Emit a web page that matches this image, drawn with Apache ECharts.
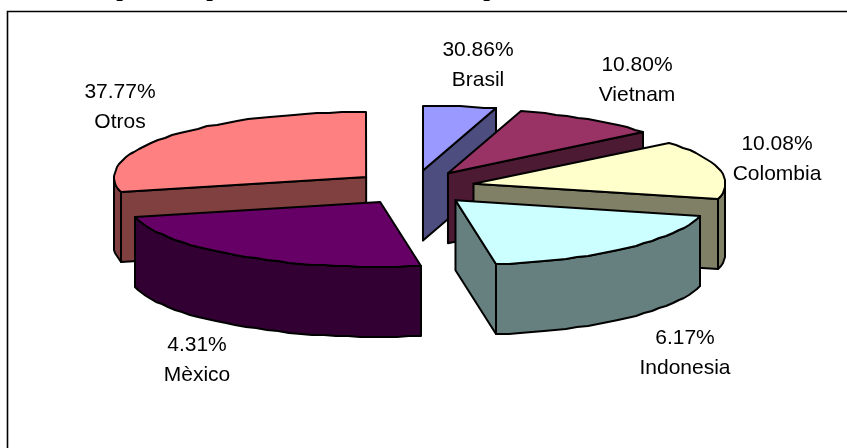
<!DOCTYPE html>
<html>
<head>
<meta charset="utf-8">
<style>html,body{margin:0;padding:0;background:#fff}#c{width:847px;height:448px}</style>
<script src="https://cdn.jsdelivr.net/npm/echarts@6/dist/echarts.min.js"></script>
</head>
<body>
<div id="c"></div>
<script>
// Data, clockwise from 12 o'clock
var names = ['Brasil', 'Vietnam', 'Colombia', 'Indonesia', 'Mèxico', 'Otros'];
var printedLabels = ['30.86%', '10.80%', '10.08%', '6.17%', '4.31%', '37.77%'];
// Share of the circle each drawn slice covers (the drawn sizes differ from the printed labels)
var sliceShares = [4.7, 9.4, 14.7, 18.6, 23.9, 28.7];

// Layout and style, separate from the data
var topColors = ['#9999FF', '#993366', '#FFFFCC', '#CCFFFF', '#660066', '#FF8080'];
var sideColors = ['#4D4D80', '#4D1A33', '#808066', '#668080', '#330033', '#804040'];
var labelAnchors = [[478, 65], [637, 80], [777, 159], [685, 353], [197, 360], [120, 107]];
var CX = 414, CY = 187.6, RX = 252, RY = 65, DEPTH = 70, EXPLODE_X = 61, EXPLODE_Y = 17.2;

var total = sliceShares.reduce(function (a, b) { return a + b; }, 0);
function toRad(share) { return share / total * 2 * Math.PI; }

function renderItem(params, api) {
  var i = params.dataIndex, start = 0;
  for (var k = 0; k < i; k++) start += toRad(sliceShares[k]);
  var end = start + toRad(api.value(0));
  var mid = (start + end) / 2;
  var ax = CX + Math.sin(mid) * EXPLODE_X, ay = CY - Math.cos(mid) * EXPLODE_Y;
  function pt(t, drop) {
    return [Math.round(ax + RX * Math.sin(t)), Math.round(ay - RY * Math.cos(t)) + (drop || 0)];
  }
  function arc(a, b, drop) {
    var out = [], n = Math.max(1, Math.ceil((b - a) / 0.05));
    for (var j = 0; j <= n; j++) out.push(pt(a + (b - a) * j / n, drop));
    return out;
  }
  var base = Math.round(-Math.cos(mid) * 100 + 100) * 10;
  function poly(points, fill, z) {
    return { type: 'polygon', z2: base + z, shape: { points: points },
      style: { fill: fill, stroke: '#000', lineWidth: 2, lineJoin: 'round' } };
  }
  var apex = [ax, ay], apexLow = [ax, ay + DEPTH], kids = [];
  // radial faces turned to the viewer
  if (Math.sin(start) < -1e-6) {
    var s = pt(start);
    kids.push(poly([apex, s, [s[0], s[1] + DEPTH], apexLow], sideColors[i], 1));
  }
  if (Math.sin(end) > 1e-6) {
    var e = pt(end);
    kids.push(poly([apex, e, [e[0], e[1] + DEPTH], apexLow], sideColors[i], 1));
  }
  // outer wall: the part of the rim on the viewer's side
  var wa = Math.max(start, Math.PI / 2), wb = Math.min(end, Math.PI * 1.5);
  if (wb > wa) {
    kids.push(poly(arc(wa, wb, 0).concat(arc(wa, wb, DEPTH).reverse()), sideColors[i], 2));
  }
  kids.push(poly([apex].concat(arc(start, end, 0)), topColors[i], 3));
  kids.push({ type: 'text', z2: 5000, x: labelAnchors[i][0], y: labelAnchors[i][1],
    style: { text: printedLabels[i] + '\n' + names[i], fill: '#000',
      font: '21px "Liberation Sans", Arial, sans-serif', lineHeight: 30,
      align: 'center', verticalAlign: 'middle' } });
  return { type: 'group', children: kids };
}

var chart = echarts.init(document.getElementById('c'), null, { renderer: 'canvas' });
chart.setOption({
  animation: false,
  backgroundColor: '#fff',
  graphic: [
    { type: 'polyline', silent: true, shape: { points: [[7.5, 448], [7.5, 11.5], [847, 11.5]] },
      style: { fill: 'none', stroke: '#000', lineWidth: 1.6 } },
    { type: 'text', silent: true, x: 123, y: 2, style: { text: 'p', font: 'bold 24px "Liberation Serif", serif', fill: '#000', align: 'center', verticalAlign: 'bottom' } },
    { type: 'text', silent: true, x: 213, y: 2, style: { text: 'p', font: 'bold 24px "Liberation Serif", serif', fill: '#000', align: 'center', verticalAlign: 'bottom' } },
    { type: 'text', silent: true, x: 490, y: 2, style: { text: 'p', font: 'bold 24px "Liberation Serif", serif', fill: '#000', align: 'center', verticalAlign: 'bottom' } }
  ],
  series: [{
    type: 'custom',
    coordinateSystem: 'none',
    silent: true,
    renderItem: renderItem,
    data: sliceShares.map(function (v, i) { return { name: names[i], value: [v] }; })
  }]
});
</script>
</body>
</html>
